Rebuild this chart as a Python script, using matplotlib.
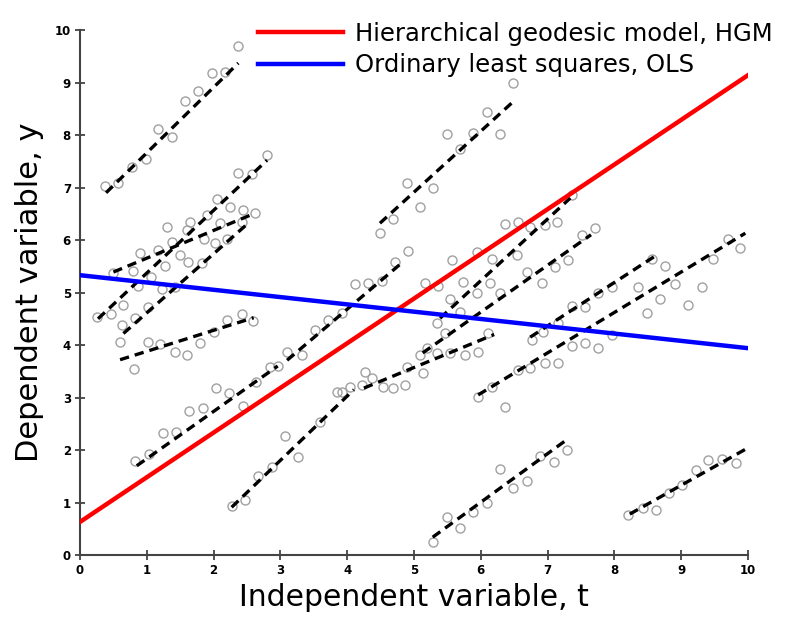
import numpy as np
from matplotlib import pyplot as plt

# observed trajectories (t, y) for each subject
times = [
    [0.37, 0.57, 0.78, 0.99, 1.17, 1.37, 1.57, 1.77, 1.97, 2.17, 2.37],
    [0.25, 0.46, 0.65, 0.87, 1.07, 1.27, 1.5, 1.6, 1.9, 2.05, 2.37, 2.57, 2.8],
    [0.5, 0.8, 0.9, 1.17, 1.3, 1.38, 1.65, 1.86, 2.1, 2.25, 2.42, 2.44, 2.62],
    [0.63, 0.82, 1.02, 1.23, 1.42, 1.62, 1.83, 2.02, 2.2],
    [0.6, 0.81, 1.02, 1.2, 1.42, 1.6, 1.8, 2.0, 2.2, 2.43, 2.59],
    [0.82, 1.03, 1.24, 1.44, 1.63, 1.84, 2.03, 2.23, 2.44, 2.63, 2.84, 2.96],
    [2.27, 2.47, 2.66, 2.87, 3.07, 3.27, 3.59, 3.84, 3.92, 4.04],
    [3.1, 3.32, 3.52, 3.71, 3.92, 4.12, 4.31, 4.52, 4.72, 4.91],
    [4.22, 4.27, 4.37, 4.54, 4.69, 4.87, 4.9, 5.09, 5.13, 5.34, 5.54, 5.76, 5.96, 6.11],
    [4.49, 4.69, 4.89, 5.09, 5.29, 5.49, 5.69, 5.88, 6.09, 6.29, 6.48],
    [5.16, 5.36, 5.54, 5.57, 5.73, 5.94, 6.17, 6.36, 6.56, 6.74, 6.96, 7.14, 7.36],
    [5.2, 5.34, 5.46, 5.69, 5.94, 6.14, 6.29, 6.54, 6.69, 6.91, 7.11, 7.3, 7.51, 7.71],
    [6.76, 6.93, 7.16, 7.37, 7.56, 7.75, 7.96, 8.35, 8.56, 8.76],
    [5.96, 6.17, 6.36, 6.56, 6.74, 6.96, 7.16, 7.37, 7.56, 7.75, 7.96, 8.49, 8.68,
     8.91, 9.1, 9.31, 9.48, 9.7, 9.88],
    [5.29, 5.49, 5.69, 5.88, 6.09, 6.29, 6.48, 6.69, 6.89, 7.1, 7.29],
    [8.2, 8.43, 8.62, 8.82, 9.01, 9.22, 9.4, 9.61, 9.82],
]
values = [
    [7.03, 7.09, 7.4, 7.54, 8.11, 7.96, 8.65, 8.84, 9.18, 9.2, 9.7],
    [4.53, 4.6, 4.76, 5.12, 5.3, 5.5, 5.71, 6.19, 6.48, 6.78, 7.28, 7.26, 7.62],
    [5.37, 5.41, 5.75, 5.81, 6.25, 5.96, 6.34, 6.02, 6.32, 6.63, 6.34, 6.57, 6.51],
    [4.38, 4.51, 4.73, 5.06, 5.1, 5.58, 5.56, 5.94, 6.02],
    [4.06, 3.54, 4.06, 4.02, 3.87, 3.81, 4.04, 4.25, 4.48, 4.59, 4.46],
    [1.79, 1.92, 2.33, 2.34, 2.74, 2.8, 3.18, 3.09, 2.84, 3.3, 3.58, 3.6],
    [0.93, 1.05, 1.5, 1.68, 2.27, 1.87, 2.54, 3.1, 3.1, 3.2],
    [3.87, 3.81, 4.29, 4.48, 4.61, 5.16, 5.18, 5.22, 5.58, 5.79],
    [3.24, 3.49, 3.37, 3.2, 3.18, 3.24, 3.58, 3.81, 3.47, 3.85, 3.85, 3.81, 3.87, 4.23],
    [6.13, 6.4, 7.09, 6.63, 7.0, 8.02, 7.73, 8.04, 8.44, 8.02, 9.0],
    [5.18, 5.12, 4.88, 5.62, 5.2, 5.77, 5.64, 6.3, 6.34, 6.25, 6.28, 6.34, 6.86],
    [3.95, 4.42, 4.23, 4.63, 4.99, 5.18, 4.99, 5.71, 5.39, 5.18, 5.49, 5.62, 6.1, 6.23],
    [4.1, 4.25, 4.42, 4.74, 4.73, 4.99, 5.1, 5.1, 5.64, 5.51],
    [3.01, 3.2, 2.82, 3.52, 3.56, 3.66, 3.66, 3.98, 4.04, 3.94, 4.19, 4.61, 4.88,
     5.16, 4.76, 5.1, 5.64, 6.02, 5.85],
    [0.24, 0.72, 0.51, 0.82, 0.99, 1.64, 1.28, 1.41, 1.89, 1.77, 2.0],
    [0.76, 0.9, 0.86, 1.18, 1.33, 1.62, 1.81, 1.83, 1.75],
]

# individual fitted trajectories: (t start, y start, t end, y end)
fit_start = [(0.39, 6.9), (0.27, 4.5), (0.5, 5.39), (0.65, 4.22), (0.6, 3.72),
             (0.85, 1.7), (2.27, 0.91), (3.1, 3.71), (4.25, 3.18), (4.49, 6.32),
             (5.39, 4.51), (5.13, 3.85), (6.74, 4.15), (5.96, 3.05), (5.28, 0.34),
             (8.23, 0.78)]
fit_end = [(2.37, 9.37), (2.8, 7.52), (2.6, 6.5), (2.5, 6.3), (2.6, 4.52),
           (2.96, 3.6), (4.1, 3.15), (4.85, 5.6), (6.2, 4.2), (6.48, 8.63),
           (7.34, 6.8), (7.65, 6.1), (8.64, 5.72), (9.96, 6.13), (7.28, 2.19),
           (9.97, 2.02)]

# population level models: intercept, slope
hgm = (0.63, 0.851)
ols = (5.33, -0.139)

fig = plt.figure(figsize=(8, 6.28), dpi=100)
ax = fig.add_axes([0.1, 0.1162, 0.835, 0.836])

for t, y in zip(times, values):
    ax.plot(t, y, 'o', mfc='none', mec='#a0a0a0', mew=1.0, ms=6.5, zorder=2)

for (t0, y0), (t1, y1) in zip(fit_start, fit_end):
    ax.plot([t0, t1], [y0, y1], color='black', lw=2.4,
            linestyle=(0, (2.8, 1.8)), zorder=3)

tt = np.array([0, 10])
ax.plot(tt, hgm[0] + hgm[1]*tt, color='#ff0000', lw=3.2, zorder=4,
        label='Hierarchical geodesic model, HGM')
ax.plot(tt, ols[0] + ols[1]*tt, color='#0000ff', lw=3.2, zorder=4,
        label='Ordinary least squares, OLS')

ax.set_xlim(0, 10)
ax.set_ylim(0, 10)
ax.set_xticks(range(11))
ax.set_yticks(range(11))
ax.spines['top'].set_visible(False)
ax.spines['right'].set_visible(False)
for s in ['left', 'bottom']:
    ax.spines[s].set_linewidth(1.5)
    ax.spines[s].set_color('#444444')
ax.tick_params(direction='inout', length=7, width=1.3, labelsize=8.5,
               color='#444444', pad=3)
for lab in ax.get_xticklabels() + ax.get_yticklabels():
    lab.set_fontweight('bold')
ax.set_xlabel('Independent variable, t', fontsize=21.5, labelpad=4)
ax.set_ylabel('Dependent variable, y', fontsize=22, labelpad=8)

fig.legend(loc='upper left', bbox_to_anchor=(0.295, 1.0), frameon=False,
           fontsize=17.5, handlelength=3.5, handletextpad=0.5, labelspacing=0.3)

fig.savefig('out.png', dpi=100)
